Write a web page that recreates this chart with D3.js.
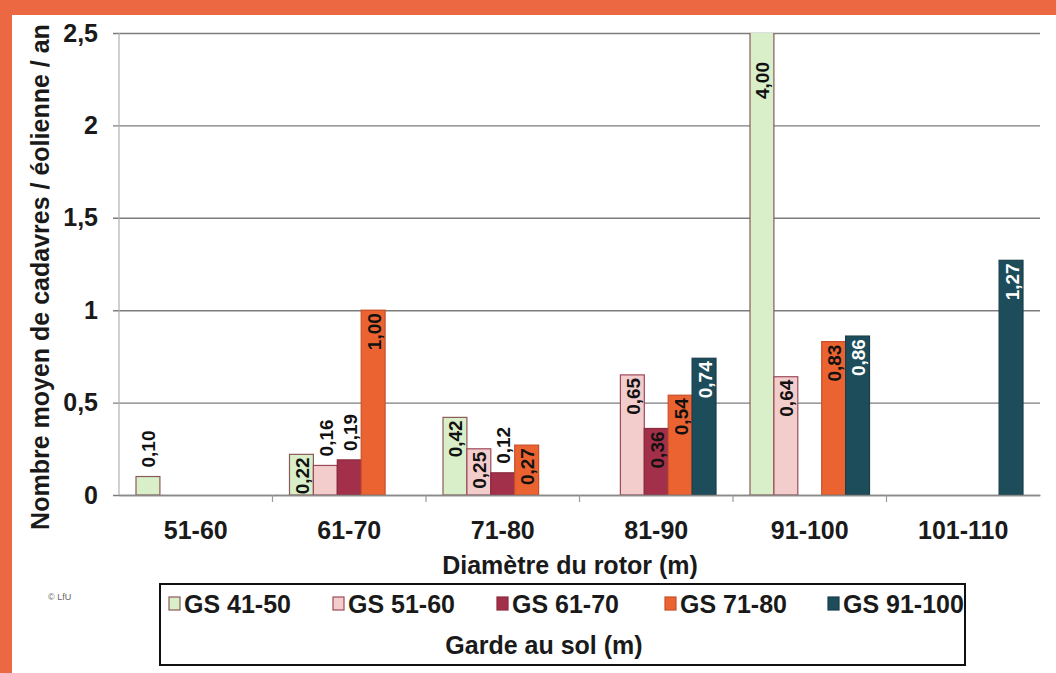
<!DOCTYPE html>
<html>
<head>
<meta charset="utf-8">
<script src="https://cdn.jsdelivr.net/npm/d3@7/dist/d3.min.js"></script>
<style>
  html, body { margin: 0; padding: 0; background: #fff; }
  svg { display: block; font-family: "Liberation Sans", Arial, sans-serif; }
</style>
</head>
<body>
<svg id="chart" width="1056" height="673"></svg>
<script>
// Rotor diameter classes (x axis)
const categories = ["51-60", "61-70", "71-80", "81-90", "91-100", "101-110"];
// Ground clearance classes (series)
const seriesNames = ["GS 41-50", "GS 51-60", "GS 61-70", "GS 71-80", "GS 91-100"];
// Mean carcasses per turbine per year; null = no turbine in that class
const gs4150 = [0.10, 0.22, 0.42, null, 4.00, null];
const gs5160 = [null, 0.16, 0.25, 0.65, 0.64, null];
const gs6170 = [null, 0.19, 0.12, 0.36, null, null];
const gs7180 = [null, 1.00, 0.27, 0.54, 0.83, null];
const gs91100 = [null, null, null, 0.74, 0.86, 1.27];
const yTicks = [0, 0.5, 1, 1.5, 2, 2.5];

const seriesValues = [gs4150, gs5160, gs6170, gs7180, gs91100];
const fills = ["#d9efc9", "#f3cccc", "#a3304a", "#ea6330", "#1d4c5b"];
const strokes = ["#8a5a58", "#9c4a5a", "#8a2a3e", "#c8502a", "#1a3f4c"];
const labelColors = ["#111", "#111", "#111", "#111", "#fff"];

const svg = d3.select("#chart");
const W = 1056, H = 673;

// Orange frame on top and left
svg.append("rect").attr("x", 0).attr("y", 0).attr("width", W).attr("height", H).attr("fill", "#fff");
svg.append("rect").attr("x", 0).attr("y", 0).attr("width", W).attr("height", 15).attr("fill", "#eb6842");
svg.append("rect").attr("x", 0).attr("y", 0).attr("width", 12).attr("height", H).attr("fill", "#eb6842");

const plot = { left: 119, right: 1040, top: 33, bottom: 495 };

const x = d3.scaleBand().domain(categories).range([plot.left, plot.right]).padding(0);
const x1 = d3.scaleBand().domain(seriesNames).range([17, x.bandwidth() - 17]).padding(0);
const y = d3.scaleLinear().domain([0, 2.5]).range([plot.bottom, plot.top]);

// Gridlines + y tick labels
const yAxis = d3.axisLeft(y)
  .tickValues(yTicks)
  .tickSize(-(plot.right - plot.left) - 6)
  .tickFormat(d => d3.format("")(d).replace(".", ","));
const gy = svg.append("g")
  .attr("transform", `translate(${plot.left - 6},0)`)
  .call(yAxis);
gy.select(".domain").remove();
gy.selectAll(".tick line").attr("stroke", "#7d7d7d").attr("stroke-width", 1.4);
gy.selectAll(".tick text")
  .attr("x", -15)
  .attr("font-size", 25)
  .attr("font-weight", "bold")
  .attr("fill", "#1a1a1a");

// Vertical axis line
svg.append("line")
  .attr("x1", plot.left).attr("x2", plot.left)
  .attr("y1", plot.top).attr("y2", plot.bottom)
  .attr("stroke", "#b0b0b0").attr("stroke-width", 1.2);

// Clip region for bars exceeding the axis maximum
svg.append("clipPath").attr("id", "plotClip")
  .append("rect")
  .attr("x", plot.left).attr("y", plot.top)
  .attr("width", plot.right - plot.left).attr("height", plot.bottom - plot.top);

const rows = [];
seriesValues.forEach((vals, si) => {
  vals.forEach((v, ci) => {
    if (v !== null) rows.push({ s: seriesNames[si], si, c: categories[ci], v });
  });
});

svg.append("g").attr("clip-path", "url(#plotClip)")
  .selectAll("rect").data(rows).join("rect")
  .attr("x", d => x(d.c) + x1(d.s))
  .attr("y", d => y(d.v))
  .attr("width", x1.bandwidth())
  .attr("height", d => y(0) - y(d.v))
  .attr("fill", d => fills[d.si])
  .attr("stroke", d => strokes[d.si])
  .attr("stroke-width", 1.2);

// X axis baseline and category ticks
const xAxis = d3.axisBottom(x).tickSize(0).tickPadding(0);
const gx = svg.append("g").attr("transform", `translate(0,${plot.bottom})`).call(xAxis);
gx.select(".domain").attr("stroke", "#8a8a8a").attr("stroke-width", 1.4);
gx.selectAll(".tick text")
  .attr("y", 35)
  .attr("dy", "0.35em")
  .attr("font-size", 25)
  .attr("font-weight", "bold")
  .attr("fill", "#1a1a1a");
svg.append("g").selectAll("line")
  .data(categories.slice(1))
  .join("line")
  .attr("x1", d => x(d)).attr("x2", d => x(d))
  .attr("y1", plot.bottom).attr("y2", plot.bottom + 7)
  .attr("stroke", "#9a9a9a").attr("stroke-width", 1.2);

// Value labels, rotated
const fmt = v => v.toFixed(2).replace(".", ",");
svg.append("g").selectAll("text").data(rows).join("text")
  .attr("transform", d => {
    const cx = x(d.c) + x1(d.s) + x1.bandwidth() / 2;
    const clipped = d.v > 2.5;
    const inside = d.v >= 0.2;
    const top = y(Math.min(d.v, 2.5));
    const ty = clipped ? top + 29 : (inside ? top + 3 : top - 9);
    return `translate(${cx + 1},${ty}) rotate(-90)`;
  })
  .attr("text-anchor", d => (d.v >= 0.2 ? "end" : "start"))
  .attr("dominant-baseline", "central")
  .attr("font-size", 19)
  .attr("font-weight", "bold")
  .attr("fill", d => labelColors[d.si])
  .text(d => fmt(d.v));

// Axis titles
svg.append("text")
  .attr("transform", `translate(40,277) rotate(-90)`)
  .attr("text-anchor", "middle")
  .attr("dominant-baseline", "central")
  .attr("font-size", 25)
  .attr("font-weight", "bold")
  .attr("fill", "#1a1a1a")
  .text("Nombre moyen de cadavres / éolienne / an");

svg.append("text")
  .attr("x", 570).attr("y", 565)
  .attr("text-anchor", "middle")
  .attr("dominant-baseline", "central")
  .attr("font-size", 25)
  .attr("font-weight", "bold")
  .attr("fill", "#1a1a1a")
  .text("Diamètre du rotor (m)");

// Source credit
svg.append("text")
  .attr("x", 48).attr("y", 600)
  .attr("font-size", 9)
  .attr("fill", "#666")
  .text("© LfU");

// Legend
const legend = svg.append("g");
legend.append("rect")
  .attr("x", 160).attr("y", 584).attr("width", 805).attr("height", 81)
  .attr("fill", "#fff").attr("stroke", "#111").attr("stroke-width", 2);
const legendX = [169, 333, 497, 665, 828];
const items = legend.selectAll("g.item").data(seriesNames).join("g")
  .attr("class", "item")
  .attr("transform", (d, i) => `translate(${legendX[i]},604)`);
items.append("rect")
  .attr("x", 0).attr("y", -7).attr("width", 11).attr("height", 13)
  .attr("fill", (d, i) => fills[i])
  .attr("stroke", (d, i) => strokes[i])
  .attr("stroke-width", 1.2);
items.append("text")
  .attr("x", 15).attr("y", 0)
  .attr("dominant-baseline", "central")
  .attr("font-size", 25)
  .attr("font-weight", "bold")
  .attr("fill", "#1a1a1a")
  .text(d => d);
legend.append("text")
  .attr("x", 544).attr("y", 645)
  .attr("text-anchor", "middle")
  .attr("dominant-baseline", "central")
  .attr("font-size", 25)
  .attr("font-weight", "bold")
  .attr("fill", "#1a1a1a")
  .text("Garde au sol (m)");
</script>
</body>
</html>
